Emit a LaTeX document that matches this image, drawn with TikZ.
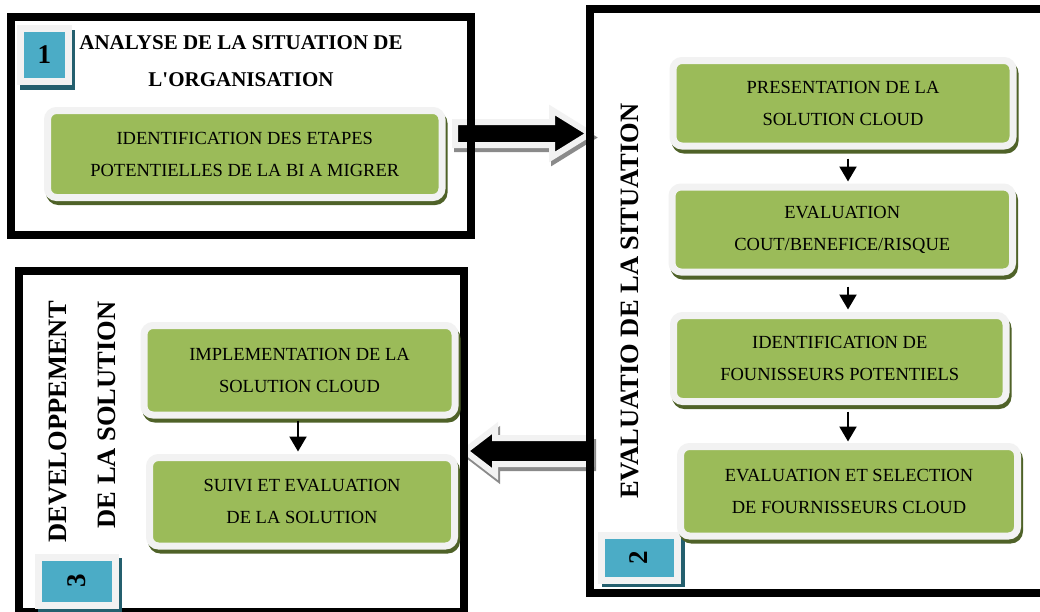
\documentclass[tikz,border=0pt]{standalone}
\usepackage{fontspec}
\setmainfont{Liberation Serif}
\usetikzlibrary{arrows.meta}
\definecolor{boxgreen}{HTML}{9BBB59}
\definecolor{olivesh}{HTML}{4F6228}
\definecolor{framegray}{HTML}{F2F2F2}
\definecolor{tealbox}{HTML}{4BACC6}
\definecolor{tealsh}{HTML}{245F6E}
\definecolor{arrowsh}{HTML}{8A8A8A}
\begin{document}
\begin{tikzpicture}[x=1pt,y=-1pt,
  blackframe/.style={draw=black, line width=8pt},
  gbox/.style={rectangle, rounded corners=9pt, fill=boxgreen, draw=framegray, line width=7pt,
    inner sep=0pt, align=center, text=black, font=\fontsize{18.5}{32}\selectfont,
    preaction={draw=olivesh, fill=olivesh, transform canvas={shift={(2pt,-4pt)}}}},
  numbox/.style={rectangle, fill=tealbox, draw=framegray, line width=7pt, inner sep=0pt,
    font=\bfseries\fontsize{27}{27}\selectfont},
  vtitle/.style={rotate=90, inner sep=0pt, font=\bfseries\fontsize{26.5}{30}\selectfont},
  flow/.style={draw=black, line width=2.2pt, -{Triangle[length=15pt,width=17pt]}},
  blockarrow/.style={draw=framegray, fill=black, line width=6pt, line join=miter},
  blockshadow/.style={draw=arrowsh, fill=arrowsh, line width=6pt, line join=miter}
]
\useasboundingbox (0,0) rectangle (1040,611);
\clip (0,0) rectangle (1040,611);
\fill[white] (0,0) rectangle (1040,611);

% ---------- block arrows ----------
\begin{scope}[shift={(2,4)}]
  \path[blockshadow] (455,122) -- (552,122) -- (552,110) -- (590,133.5) -- (552,157) -- (552,145) -- (455,145) -- cycle;
  \path[blockshadow] (591,438) -- (495,438) -- (495,428) -- (465,451) -- (495,474) -- (495,464) -- (591,464) -- cycle;
\end{scope}
\path[blockarrow] (455,122) -- (552,122) -- (552,110) -- (590,133.5) -- (552,157) -- (552,145) -- (455,145) -- cycle;
\path[blockarrow] (591,438) -- (495,438) -- (495,428) -- (465,451) -- (495,474) -- (495,464) -- (591,464) -- cycle;

% ---------- frames ----------
\draw[blackframe] (11,17) rectangle (471,235);
\draw[blackframe] (1050,9) -- (590,9) -- (590,592.5) -- (1050,592.5);
\draw[blackframe] (19,271) rectangle (464,612);

% ---------- section 1 ----------
\node[numbox, minimum width=47.5pt, minimum height=53pt,
  preaction={draw=tealsh, fill=tealsh, transform canvas={shift={(3pt,-5pt)}}}] (n1) at (44.25,54.5) {1};
\node[align=center, inner sep=0pt, font=\bfseries\fontsize{21}{37.5}\selectfont] (t1) at (241,61)
  {ANALYSE DE LA SITUATION DE\\L\textquotesingle ORGANISATION};
\node[gbox, minimum width=394.5pt, minimum height=87pt] (g1) at (244.75,154)
  {IDENTIFICATION DES ETAPES\\POTENTIELLES DE LA BI A MIGRER};

% ---------- section 2 ----------
\node[vtitle] (t2) at (630,301) {EVALUATIO DE LA SITUATION};
\node[numbox, minimum width=76pt, minimum height=45pt,
  preaction={draw=tealsh, fill=tealsh, transform canvas={shift={(4pt,-3pt)}}}] (n2) at (639,557.5) {\rotatebox{90}{2}};
\node[gbox, minimum width=340pt, minimum height=85.5pt] (gA) at (843,103.25)
  {PRESENTATION DE LA\\SOLUTION CLOUD};
\node[gbox, minimum width=340.5pt, minimum height=85pt] (gB) at (842.25,229.5)
  {EVALUATION\\COUT/BENEFICE/RISQUE};
\node[gbox, minimum width=332.5pt, minimum height=86pt] (gC) at (839.75,358.5)
  {IDENTIFICATION DE\\FOUNISSEURS POTENTIELS};
\node[gbox, minimum width=337pt, minimum height=89.5pt] (gD) at (849,491.25)
  {EVALUATION ET SELECTION\\DE FOURNISSEURS CLOUD};
\coordinate (rc) at (848,0);
\draw[flow, shorten <=9pt, shorten >=2pt] (gA.south -| rc) -- (gB.north -| rc);
\draw[flow, shorten <=11pt, shorten >=2.5pt] (gB.south -| rc) -- (gC.north -| rc);
\draw[flow, shorten <=6.5pt, shorten >=1.5pt] (gC.south -| rc) -- (gD.north -| rc);

% ---------- section 3 ----------
\node[vtitle] (t3a) at (58,422) {DEVELOPPEMENT};
\node[vtitle] (t3b) at (107,415) {DE LA SOLUTION};
\node[numbox, minimum width=77pt, minimum height=48pt,
  preaction={draw=tealsh, fill=tealsh, transform canvas={shift={(3pt,-4pt)}}}] (n3) at (76.5,581) {\rotatebox{90}{3}};
\node[gbox, minimum width=311pt, minimum height=89.5pt] (gI) at (299.5,370.25)
  {IMPLEMENTATION DE LA\\SOLUTION CLOUD};
\node[gbox, minimum width=305pt, minimum height=88.5pt] (gS) at (302,501.75)
  {SUIVI ET EVALUATION\\DE LA SOLUTION};
\coordinate (lc) at (298,0);
\draw[flow, shorten <=2pt, shorten >=2.5pt] (gI.south -| lc) -- (gS.north -| lc);
\end{tikzpicture}
\end{document}
